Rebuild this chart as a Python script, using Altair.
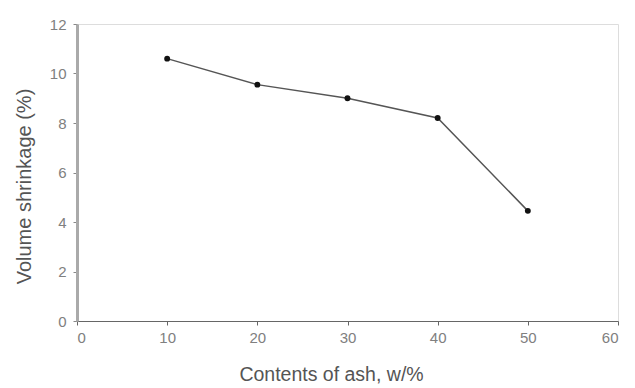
import altair as alt
import pandas as pd

ash = [10, 20, 30, 40, 50]
shrinkage = [10.6, 9.55, 9.0, 8.2, 4.45]

df = pd.DataFrame({"ash": ash, "shrink": shrinkage})

base = alt.Chart(df).encode(
    x=alt.X("ash:Q", scale=alt.Scale(domain=[0, 60], nice=False),
            axis=alt.Axis(title="Contents of ash, w/%", values=[0, 10, 20, 30, 40, 50, 60],
                          grid=False, domainColor="#666", domainWidth=1.2,
                          tickColor="#666", tickSize=4, labelPadding=5,
                          labelColor="#808080", labelFont="Liberation Sans", labelFontSize=15,
                          titleFont="Liberation Sans", titleFontSize=19.5, titleFontWeight="normal",
                          titleColor="#555", titlePadding=20, titleX=254)),
    y=alt.Y("shrink:Q", scale=alt.Scale(domain=[0, 12], nice=False),
            axis=alt.Axis(title="Volume shrinkage (%)", values=[0, 2, 4, 6, 8, 10, 12],
                          grid=False, domainColor="#aaa", domainWidth=3,
                          tickColor="#888", tickSize=4, labelPadding=7,
                          labelColor="#808080", labelFont="Liberation Sans", labelFontSize=15,
                          titleFont="Liberation Sans", titleFontSize=20, titleFontWeight="normal",
                          titleColor="#555", titlePadding=15, titleY=162)),
)

line = base.mark_line(color="#555", strokeWidth=1.5)
pts = base.mark_point(filled=True, color="#111", size=35, opacity=1)

chart = (line + pts).properties(
    width=541, height=297,
    autosize=alt.AutoSizeParams(type="none"),
    padding={"left": 77, "top": 24, "right": 17, "bottom": 67},
).configure_view(stroke=None).configure(background="white")

chart.save("out.html", embed_options={"renderer": "svg", "actions": False})
